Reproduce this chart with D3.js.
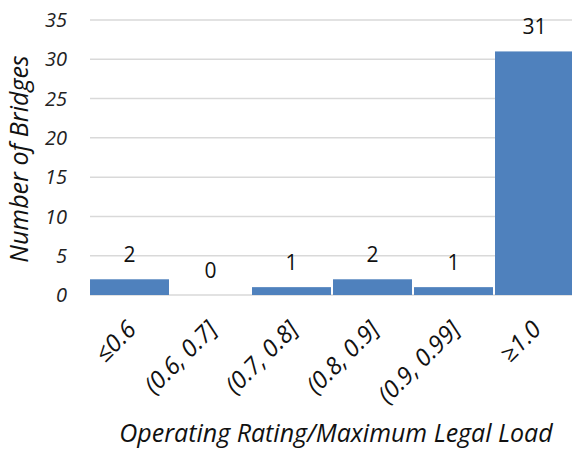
<!DOCTYPE html>
<html><head><meta charset="utf-8">
<script src="https://cdn.jsdelivr.net/npm/d3@7"></script>
<style>body{margin:0;background:#fff;} svg{display:block;font-family:"Open Sans", Lato, sans-serif;}</style>
</head><body>
<svg id="chart" width="572" height="450"></svg>
<script>
const categories = ["≤0.6", "(0.6, 0.7]", "(0.7, 0.8]", "(0.8, 0.9]", "(0.9, 0.99]", "≥1.0"];
const counts = [2, 0, 1, 2, 1, 31];
const yTicks = [0, 5, 10, 15, 20, 25, 30, 35];
const yTitle = "Number of Bridges";
const xTitle = "Operating Rating/Maximum Legal Load";

const svg = d3.select("#chart");
const m = {left: 89, right: 575, top: 20, bottom: 295};
const x = d3.scaleBand().domain(categories).range([m.left, m.right]).paddingInner(0.025).paddingOuter(0.0125);
const y = d3.scaleLinear().domain([0, 35]).range([m.bottom, m.top]);

// gridlines
svg.append("g").selectAll("line").data(yTicks).join("line")
  .attr("x1", m.left + 1).attr("x2", m.right).attr("y1", d => y(d)).attr("y2", d => y(d))
  .attr("stroke", "#d9d9d9").attr("stroke-width", 1.5);

// y tick labels
svg.append("g").selectAll("text").data(yTicks).join("text")
  .attr("x", 67).attr("y", d => y(d)).attr("dy", "0.36em")
  .attr("text-anchor", "end").attr("font-style", "italic").attr("font-size", 20).attr("fill", "#222")
  .text(d => d);

// bars
svg.append("g").selectAll("rect").data(counts).join("rect")
  .attr("x", (d, i) => x(categories[i])).attr("width", x.bandwidth())
  .attr("y", d => y(d)).attr("height", d => y(0) - y(d))
  .attr("fill", "#4f81bd");

// value labels
svg.append("g").selectAll("text").data(counts).join("text")
  .attr("x", (d, i) => x(categories[i]) + x.bandwidth() / 2)
  .attr("y", d => y(d) - 17)
  .attr("text-anchor", "middle").attr("font-size", 21).attr("fill", "#111")
  .text(d => d);

// x tick labels
svg.append("g").selectAll("text").data(categories).join("text")
  .attr("transform", d => `translate(${x(d) + x.bandwidth() / 2 + 8},${331}) rotate(-45)`)
  .attr("text-anchor", "end").attr("font-size", 24).attr("font-style", "italic").attr("fill", "#111")
  .text(d => d);

// axis titles
svg.append("text").attr("x", 336).attr("y", 442).attr("text-anchor", "middle")
  .attr("font-style", "italic").attr("font-size", 25).attr("fill", "#111").text(xTitle);
svg.append("text").attr("transform", `translate(28,159) rotate(-90)`).attr("text-anchor", "middle")
  .attr("font-style", "italic").attr("font-size", 25).attr("fill", "#111").text(yTitle);
</script>
</body></html>
